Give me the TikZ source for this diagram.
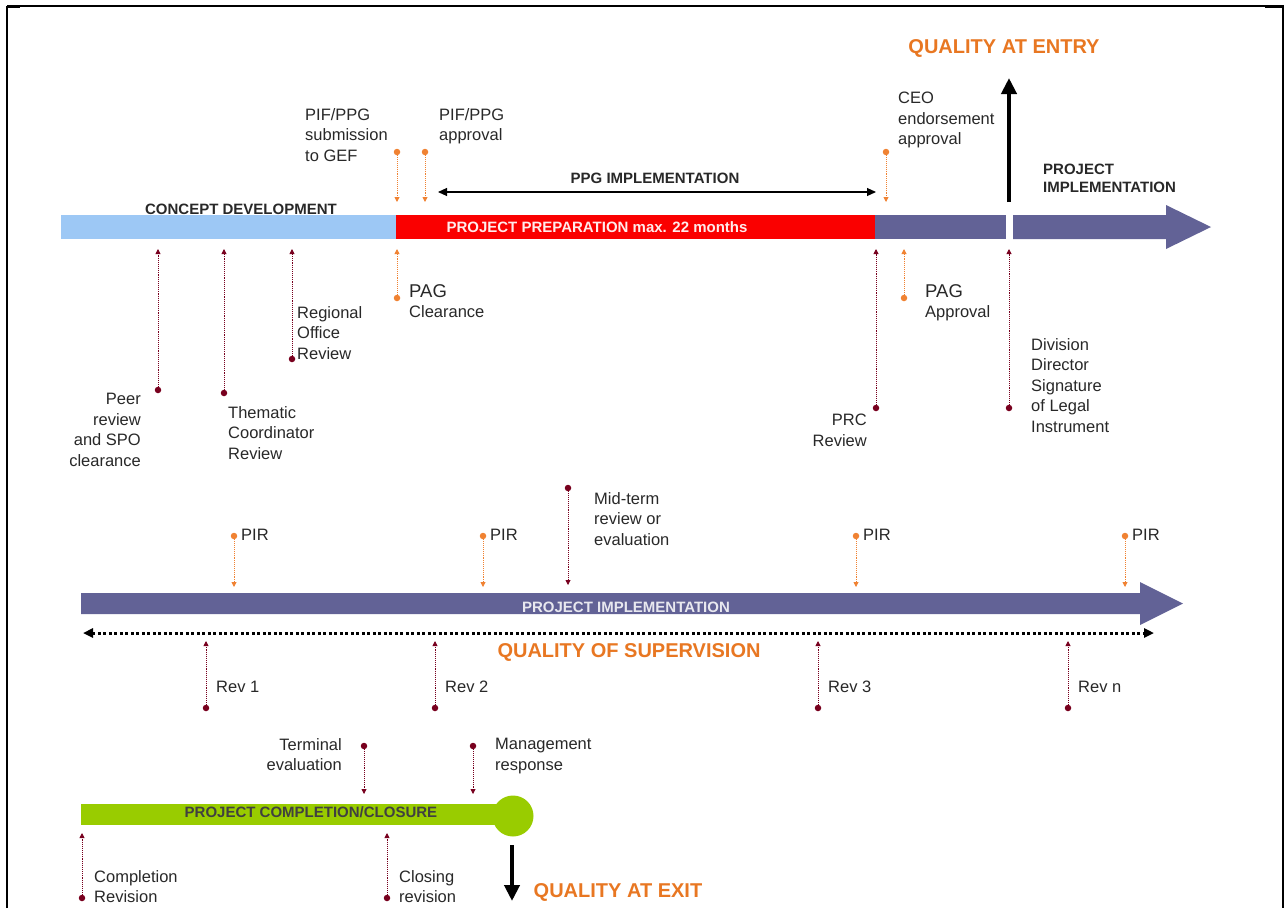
\documentclass[tikz,border=0pt]{standalone}
\usepackage{fontspec}
\setmainfont{Liberation Sans}
\usetikzlibrary{arrows.meta}
\definecolor{cblue}{RGB}{157,200,245}
\definecolor{cred}{RGB}{250,0,0}
\definecolor{cpurp}{RGB}{98,98,150}
\definecolor{cgreen}{RGB}{153,204,0}
\definecolor{corange}{RGB}{232,119,34}
\definecolor{cdot}{RGB}{240,130,50}
\definecolor{cdred}{RGB}{120,0,30}
\definecolor{ctext}{RGB}{40,40,40}
\tikzset{
  lbl/.style={font=\fontsize{16.5}{20.5}\selectfont, inner sep=0pt, text=ctext},
  capl/.style={font=\bfseries\fontsize{15}{17.5}\selectfont, inner sep=0pt, text=ctext},
  qual/.style={font=\bfseries\fontsize{20}{24}\selectfont, inner sep=0pt, text=corange},
  odot/.style={circle, fill=cdot, minimum size=6.5pt, inner sep=0pt},
  rdot/.style={circle, fill=cdred, minimum size=6.5pt, inner sep=0pt},
  oconn/.style={draw=cdot, densely dotted, line width=0.9pt, -{Triangle[length=5pt,width=5pt]}},
  rconn/.style={draw=cdred, densely dotted, line width=0.9pt, -{Triangle[length=5pt,width=5pt]}},
  bigarrow/.style={draw=black, line width=4pt, -{Triangle[length=16pt,width=15pt]}},
}
\begin{document}
\begin{tikzpicture}[x=1pt,y=-1pt]
\useasboundingbox (0,0) rectangle (1288,908);
% frame
\draw[line width=2.5pt] (7,908) -- (7,6);
\draw[line width=1.2pt] (7,6) -- (1283,6);
\draw[line width=2.5pt] (7,6.5) -- (20,6.5);
\draw[line width=2.5pt] (1265,6.5) -- (1283,6.5) -- (1283,908);

% ===== top bar =====
\fill[cblue] (61,215) rectangle (396,239);
\fill[cred] (396,215) rectangle (875,239);
\fill[cpurp] (875,215) rectangle (1006,239);
\fill[cpurp] (1013,215) -- (1166,215) -- (1166,205) -- (1211,227) -- (1166,249) -- (1166,239) -- (1013,239) -- cycle;

\node[capl] (cd) at (241,209) {CONCEPT DEVELOPMENT};
\node[capl, text=white!92!red] (pp) at (597,227) {PROJECT PREPARATION max. 22 months};
\node[capl, anchor=north west, align=left] (pi1) at (1043,164) {PROJECT\\IMPLEMENTATION};
\node[capl] (ppg) at (655,178) {PPG IMPLEMENTATION};
\coordinate (ppgL) at (438,192);
\coordinate (ppgR) at (876,192);
\draw[line width=1.1pt, {Triangle[length=9pt,width=8pt]}-{Triangle[length=9pt,width=8pt]}] (ppgL) -- (ppgR);

% quality at entry
\node[qual] (qae) at (1004,48) {QUALITY AT ENTRY};
\coordinate (qaeS) at (1009,202);
\coordinate (qaeT) at (1009,78);
\draw[bigarrow] (qaeS) -- (qaeT);

% top labels
\node[lbl, anchor=north west, align=left] (l1) at (305,108) {PIF/PPG\\submission\\to GEF};
\node[lbl, anchor=north west, align=left] (l2) at (439,108) {PIF/PPG\\approval};
\node[lbl, anchor=north west, align=left] (l3) at (898,92) {CEO\\endorsement\\approval};

% top markers (down)
\node[odot] (a1) at (397,152) {}; \coordinate (a1t) at (397,202);
\node[odot] (a2) at (425,152) {}; \coordinate (a2t) at (425,202);
\node[odot] (a3) at (886,152) {}; \coordinate (a3t) at (886,202);
\draw[oconn] (a1) -- (a1t);
\draw[oconn] (a2) -- (a2t);
\draw[oconn] (a3) -- (a3t);

% markers below top bar (up)
\node[rdot] (b1) at (158,390) {}; \coordinate (b1t) at (158,249);
\node[rdot] (b2) at (224,393) {}; \coordinate (b2t) at (224,249);
\node[rdot] (b3) at (292,359) {}; \coordinate (b3t) at (292,249);
\node[odot] (b4) at (397,298) {}; \coordinate (b4t) at (397,249);
\node[rdot] (b5) at (876,408) {}; \coordinate (b5t) at (876,249);
\node[odot] (b6) at (904,298) {}; \coordinate (b6t) at (904,249);
\node[rdot] (b7) at (1009,408) {}; \coordinate (b7t) at (1009,249);
\draw[rconn] (b1) -- (b1t);
\draw[rconn] (b2) -- (b2t);
\draw[rconn] (b3) -- (b3t);
\draw[oconn] (b4) -- (b4t);
\draw[rconn] (b5) -- (b5t);
\draw[oconn] (b6) -- (b6t);
\draw[rconn] (b7) -- (b7t);

\node[lbl, anchor=north east, align=right] (t1) at (141,393) {Peer\\review\\and SPO\\clearance};
\node[lbl, anchor=north west, align=left] (t2) at (228,406) {Thematic\\Coordinator\\Review};
\node[lbl, anchor=north west, align=left] (t3) at (297,306) {Regional\\Office\\Review};
\node[lbl, anchor=north west, align=left] (t4) at (409,284) {{\fontsize{18.5}{20.5}\selectfont PAG}\\Clearance};
\node[lbl, anchor=north east, align=right] (t5) at (867,414) {PRC\\Review};
\node[lbl, anchor=north west, align=left] (t6) at (925,284) {{\fontsize{18.5}{20.5}\selectfont PAG}\\Approval};
\node[lbl, anchor=north west, align=left] (t7) at (1031,338) {Division\\Director\\Signature\\of Legal\\Instrument};

% ===== middle bar =====
\fill[cpurp] (81,593) -- (1140,593) -- (1140,582) -- (1183,603.5) -- (1140,625) -- (1140,614) -- (81,614) -- cycle;
\node[capl, text=white!85!cpurp] (pi2) at (626,607) {PROJECT IMPLEMENTATION};

\coordinate (supL) at (83,633);
\coordinate (supR) at (1154,633);
\draw[line width=3pt, dash pattern=on 3pt off 2.5pt, {Triangle[length=10pt,width=9pt]}-{Triangle[length=10pt,width=9pt]}] (supL) -- (supR);
\node[qual] (qos) at (629,652) {QUALITY OF SUPERVISION};

% PIR markers
\node[odot] (p1) at (234,536) {}; \coordinate (p1t) at (234,587);
\node[odot] (p2) at (483,536) {}; \coordinate (p2t) at (483,587);
\node[odot] (p3) at (856,536) {}; \coordinate (p3t) at (856,587);
\node[odot] (p4) at (1125,536) {}; \coordinate (p4t) at (1125,587);
\draw[oconn] (p1) -- (p1t);
\draw[oconn] (p2) -- (p2t);
\draw[oconn] (p3) -- (p3t);
\draw[oconn] (p4) -- (p4t);
\node[lbl, anchor=west] (pl1) at (241,535) {PIR};
\node[lbl, anchor=west] (pl2) at (490,535) {PIR};
\node[lbl, anchor=west] (pl3) at (863,535) {PIR};
\node[lbl, anchor=west] (pl4) at (1132,535) {PIR};

% mid-term
\node[rdot] (m1) at (568,488) {}; \coordinate (m1t) at (568,585);
\draw[rconn] (m1) -- (m1t);
\node[lbl, anchor=north west, align=left] (ml) at (594,492) {Mid-term\\review or\\evaluation};

% Rev markers
\node[rdot] (r1) at (206,708) {}; \coordinate (r1t) at (206,641);
\node[rdot] (r2) at (435,708) {}; \coordinate (r2t) at (435,641);
\node[rdot] (r3) at (818,708) {}; \coordinate (r3t) at (818,641);
\node[rdot] (r4) at (1068,708) {}; \coordinate (r4t) at (1068,641);
\draw[rconn] (r1) -- (r1t);
\draw[rconn] (r2) -- (r2t);
\draw[rconn] (r3) -- (r3t);
\draw[rconn] (r4) -- (r4t);
\node[lbl, anchor=west] (rl1) at (216,687) {Rev 1};
\node[lbl, anchor=west] (rl2) at (445,687) {Rev 2};
\node[lbl, anchor=west] (rl3) at (828,687) {Rev 3};
\node[lbl, anchor=west] (rl4) at (1078,687) {Rev n};

% ===== bottom bar =====
\fill[cgreen] (81,804) rectangle (505,825);
\fill[cgreen] (513,816) circle (20.5);
\node[capl, text=black!75] (pc) at (311,812) {PROJECT COMPLETION/CLOSURE};

\node[rdot] (e1) at (364,746) {}; \coordinate (e1t) at (364,794);
\node[rdot] (e2) at (473,746) {}; \coordinate (e2t) at (473,794);
\draw[rconn] (e1) -- (e1t);
\draw[rconn] (e2) -- (e2t);
\node[lbl, anchor=north east, align=right] (el1) at (342,738) {Terminal\\evaluation};
\node[lbl, anchor=north west, align=left] (el2) at (495,738) {Management\\response};

\node[rdot] (c1) at (82,898) {}; \coordinate (c1t) at (82,833);
\node[rdot] (c2) at (387,898) {}; \coordinate (c2t) at (387,833);
\draw[rconn] (c1) -- (c1t);
\draw[rconn] (c2) -- (c2t);
\node[lbl, anchor=north west, align=left] (cl1) at (94,870) {Completion\\Revision};
\node[lbl, anchor=north west, align=left] (cl2) at (399,870) {Closing\\revision};

\coordinate (qxS) at (512,845);
\coordinate (qxT) at (512,901);
\draw[bigarrow] (qxS) -- (qxT);
\node[qual] (qax) at (618,892) {QUALITY AT EXIT};
\end{tikzpicture}
\end{document}
